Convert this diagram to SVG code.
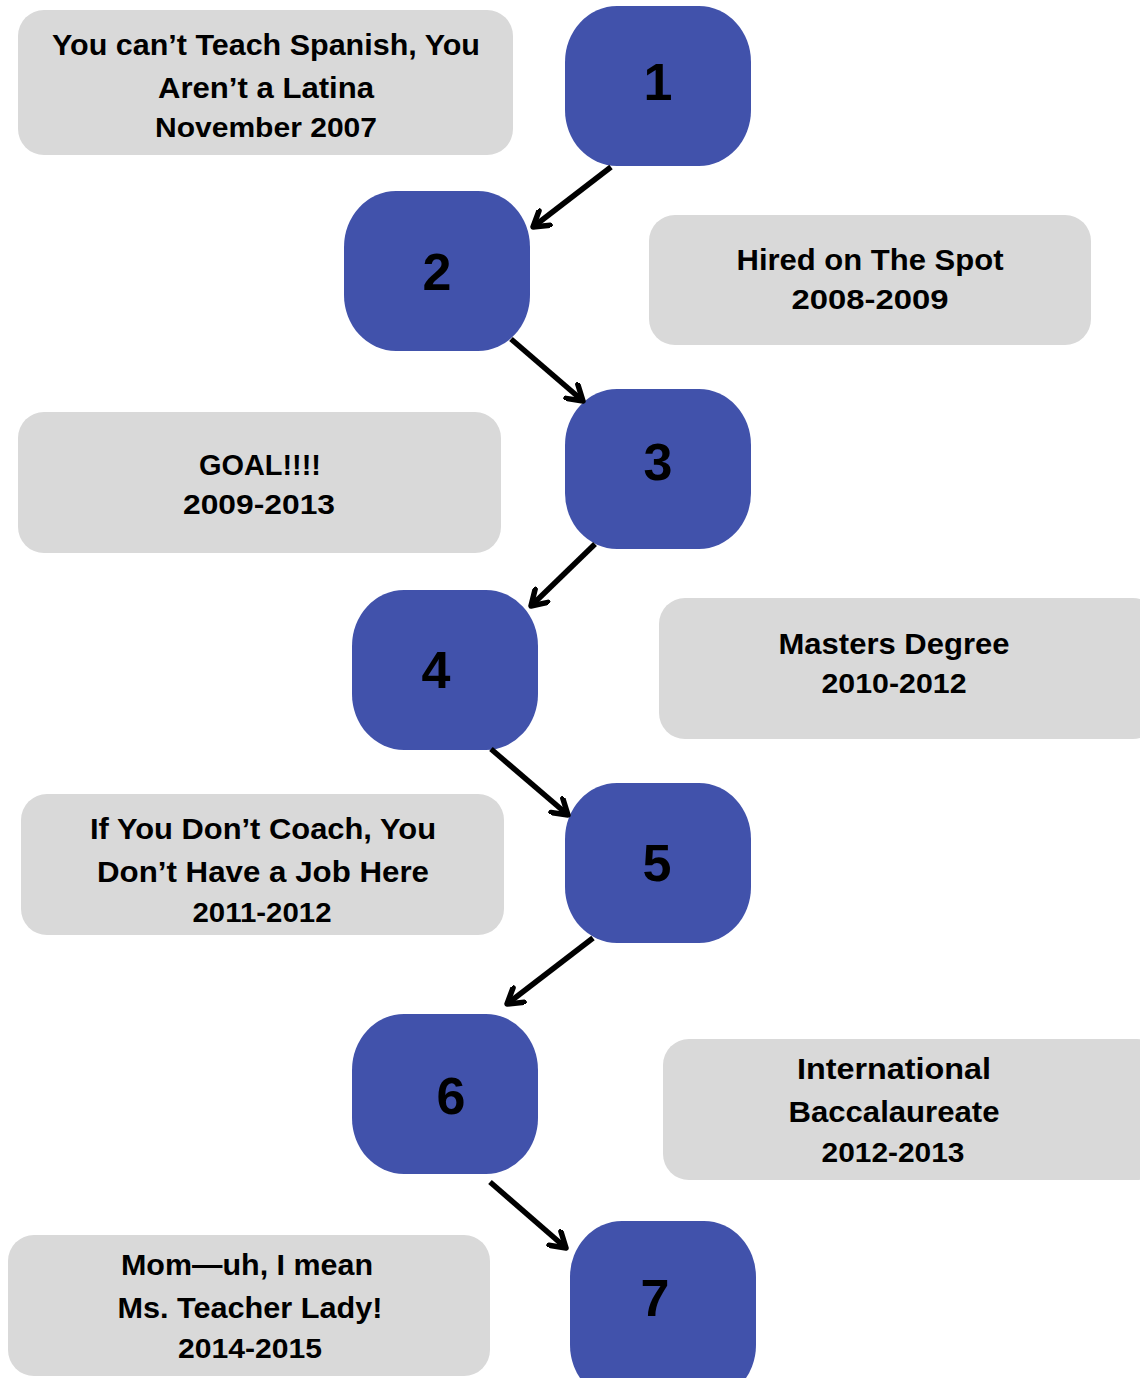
<svg xmlns="http://www.w3.org/2000/svg" width="1140" height="1378" viewBox="0 0 1140 1378">
<defs>
<style>
.box{fill:#d9d9d9}
.step{fill:#4152ab}
.t{font-family:"Liberation Sans",Arial,sans-serif;font-weight:bold;font-size:29px;fill:#000;text-anchor:middle}
.d{font-size:27px}
.n{font-family:"Liberation Sans",Arial,sans-serif;font-weight:bold;font-size:52px;fill:#000;text-anchor:middle}
.c{stroke:#000;stroke-width:5.5;fill:none;stroke-linecap:butt}
</style>
<marker id="ah" viewBox="0 0 12 12" refX="9.5" refY="6" markerWidth="22" markerHeight="22" markerUnits="userSpaceOnUse" orient="auto">
<path d="M1.5,1 L9.5,6 L1.5,11" fill="none" stroke="#000" stroke-width="3" stroke-linecap="round" stroke-linejoin="round"/>
</marker>
</defs>
<rect width="1140" height="1378" fill="#fff"/>

<g id="label1"><rect class="box" x="18" y="10" width="495" height="145" rx="26"/>
<text class="t" x="266" y="55" textLength="428" lengthAdjust="spacingAndGlyphs">You can’t Teach Spanish, You</text>
<text class="t" x="266" y="98" textLength="216" lengthAdjust="spacingAndGlyphs">Aren’t a Latina</text>
<text class="t d" x="266" y="137" textLength="222" lengthAdjust="spacingAndGlyphs">November 2007</text></g>

<g id="label2"><rect class="box" x="649" y="215" width="442" height="130" rx="26"/>
<text class="t" x="870" y="270" textLength="267" lengthAdjust="spacingAndGlyphs">Hired on The Spot</text>
<text class="t d" x="870" y="309" textLength="157" lengthAdjust="spacingAndGlyphs">2008-2009</text></g>

<g id="label3"><rect class="box" x="18" y="412" width="483" height="141" rx="26"/>
<text class="t" x="260" y="475" textLength="122" lengthAdjust="spacingAndGlyphs">GOAL!!!!</text>
<text class="t d" x="259" y="514" textLength="152" lengthAdjust="spacingAndGlyphs">2009-2013</text></g>

<g id="label4"><rect class="box" x="659" y="598" width="500" height="141" rx="26"/>
<text class="t" x="894" y="654" textLength="231" lengthAdjust="spacingAndGlyphs">Masters Degree</text>
<text class="t d" x="894" y="693" textLength="145" lengthAdjust="spacingAndGlyphs">2010-2012</text></g>

<g id="label5"><rect class="box" x="21" y="794" width="483" height="141" rx="26"/>
<text class="t" x="263" y="839" textLength="346" lengthAdjust="spacingAndGlyphs">If You Don’t Coach, You</text>
<text class="t" x="263" y="882" textLength="332" lengthAdjust="spacingAndGlyphs">Don’t Have a Job Here</text>
<text class="t d" x="262" y="922" textLength="139" lengthAdjust="spacingAndGlyphs">2011-2012</text></g>

<g id="label6"><rect class="box" x="663" y="1039" width="500" height="141" rx="26"/>
<text class="t" x="894" y="1079" textLength="194" lengthAdjust="spacingAndGlyphs">International</text>
<text class="t" x="894" y="1122" textLength="211" lengthAdjust="spacingAndGlyphs">Baccalaureate</text>
<text class="t d" x="893" y="1162" textLength="143" lengthAdjust="spacingAndGlyphs">2012-2013</text></g>

<g id="label7"><rect class="box" x="8" y="1235" width="482" height="141" rx="26"/>
<text class="t" x="247" y="1275" textLength="252" lengthAdjust="spacingAndGlyphs">Mom—uh, I mean</text>
<text class="t" x="250" y="1318" textLength="265" lengthAdjust="spacingAndGlyphs">Ms. Teacher Lady!</text>
<text class="t d" x="250" y="1358" textLength="144" lengthAdjust="spacingAndGlyphs">2014-2015</text></g>

<g id="step1"><rect class="step" x="565" y="6" width="186" height="160" rx="52" ry="56"/><text class="n" x="658" y="100">1</text></g>
<g id="step2"><rect class="step" x="344" y="191" width="186" height="160" rx="52" ry="56"/><text class="n" x="437" y="290">2</text></g>
<g id="step3"><rect class="step" x="565" y="389" width="186" height="160" rx="52" ry="56"/><text class="n" x="658" y="480">3</text></g>
<g id="step4"><rect class="step" x="352" y="590" width="186" height="160" rx="52" ry="56"/><text class="n" x="436" y="688">4</text></g>
<g id="step5"><rect class="step" x="565" y="783" width="186" height="160" rx="52" ry="56"/><text class="n" x="657" y="881">5</text></g>
<g id="step6"><rect class="step" x="352" y="1014" width="186" height="160" rx="52" ry="56"/><text class="n" x="451" y="1114">6</text></g>
<g id="step7"><rect class="step" x="570" y="1221" width="186" height="180" rx="52" ry="56"/><text class="n" x="655" y="1316">7</text></g>

<g id="connectors">
<line class="c" x1="611" y1="167" x2="533" y2="227" marker-end="url(#ah)"/>
<line class="c" x1="511" y1="339" x2="583" y2="401" marker-end="url(#ah)"/>
<line class="c" x1="595" y1="544" x2="531" y2="606" marker-end="url(#ah)"/>
<line class="c" x1="491" y1="749" x2="568" y2="815" marker-end="url(#ah)"/>
<line class="c" x1="593" y1="938" x2="507" y2="1004" marker-end="url(#ah)"/>
<line class="c" x1="490" y1="1182" x2="566" y2="1248" marker-end="url(#ah)"/>
</g>
</svg>
